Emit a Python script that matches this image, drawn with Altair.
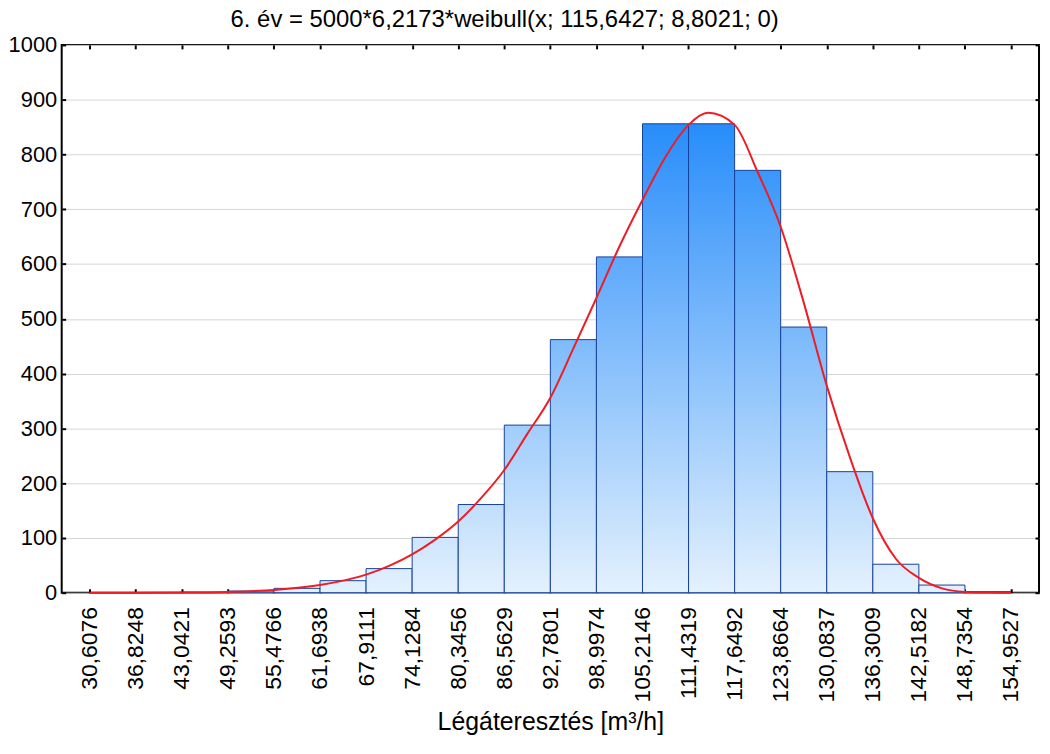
import altair as alt
import pandas as pd

# ---- data ----
edges = [30.6076, 36.8248, 43.0421, 49.2593, 55.4766, 61.6938, 67.9111, 74.1284,
         80.3456, 86.5629, 92.7801, 98.9974, 105.2146, 111.4319, 117.6492, 123.8664,
         130.0837, 136.3009, 142.5182, 148.7354, 154.9527]
counts = [0, 0, 1, 3, 8, 22, 44, 101, 161, 306, 462, 613, 856, 856, 771, 485, 221, 52, 14, 2]

curve_x = [30.6076, 36.8248, 43.0421, 49.2593, 55.4766, 61.6938, 67.9111, 71.02, 74.1284,
           77.24, 80.3456, 83.45, 86.5629, 89.67, 92.7801, 95.89, 98.9974, 102.1, 105.2146,
           108.3, 111.4319, 114.07, 117.6492, 120.76, 123.8664, 126.97, 130.0837, 133.19,
           136.3009, 139.41, 142.5182, 145.63, 148.7354, 151.84, 154.9527]
curve_y = [0, 0, 0.3, 1.5, 5, 14, 33, 49, 70,
           97, 130, 173, 224, 290, 356, 446, 538, 632, 717,
           795, 854, 876, 854, 768, 668, 530, 378, 248,
           136, 62, 27, 8, 1.5, 0.3, 0]

y_ticks = list(range(0, 1001, 100))
title_text = "6. év = 5000*6,2173*weibull(x; 115,6427; 8,8021; 0)"
x_title = "Légáteresztés [m³/h]"

half = (edges[1] - edges[0]) / 2
bars_df = pd.DataFrame({"i": list(range(len(counts))), "x0": edges[:-1],
                        "x1": edges[1:], "n": counts})
curve_df = pd.DataFrame({"x": curve_x, "y": curve_y})

FONT = "Liberation Sans"
x_scale = alt.Scale(domain=[edges[0] - half, edges[-1] + half], nice=False, zero=False)
y_scale = alt.Scale(domain=[0, 1000], nice=False)

c_lo = (228, 241, 253)
c_hi = (30, 136, 250)


def shade(v):
    t = max(0.0, min(v / 900.0, 1.0))
    r, g, b = [round(a + (bb - a) * t) for a, bb in zip(c_lo, c_hi)]
    return f"#{r:02x}{g:02x}{b:02x}"


label_expr = "replace(format(datum.value, '.4f'), '.', ',')"

layers = []
for k, n in enumerate(counts):
    grad = alt.Gradient(
        gradient="linear",
        stops=[alt.GradientStop(offset=0, color=shade(0)),
               alt.GradientStop(offset=1, color=shade(n))],
        x1=0, x2=0, y1=1, y2=0,
    )
    if k == 0:
        xa = alt.Axis(values=edges, labelExpr=label_expr, labelAngle=-90, labelFontSize=23,
                      labelPadding=14, tickSize=4, tickWidth=2, tickColor="black",
                      offset=-4, domain=False, grid=False, title=x_title, titleFontSize=25,
                      titlePadding=8, labelFlush=False, labelOverlap=False,
                      titleFontWeight="normal", labelColor="black", titleColor="black")
        ya = alt.Axis(values=y_ticks, format="d", labelFontSize=22, labelPadding=5,
                      tickSize=4, tickWidth=2, tickColor="black", offset=-4, domain=False,
                      grid=True, gridColor="#d6d6d6", gridWidth=1, title=None,
                      labelColor="black")
    else:
        xa = None
        ya = None
    layer = alt.Chart(bars_df).transform_filter(alt.datum.i == k).mark_bar(
        color=grad, stroke="#16429a", strokeWidth=1, orient="vertical"
    ).encode(
        x=alt.X("x0:Q", scale=x_scale, axis=xa),
        x2="x1:Q",
        y=alt.Y("n:Q", scale=y_scale, axis=ya),
        y2=alt.datum(0),
    )
    layers.append(layer)

curve = alt.Chart(curve_df).mark_line(color="#ee1c25", strokeWidth=2,
                                      interpolate="monotone").encode(
    x=alt.X("x:Q", scale=x_scale,
            axis=alt.Axis(orient="top", values=edges, labels=False, tickSize=4, tickWidth=2,
                          tickColor="black", offset=-4, domain=False, grid=False, title=None)),
    y=alt.Y("y:Q", scale=y_scale,
            axis=alt.Axis(orient="right", values=y_ticks, labels=False, tickSize=4,
                          tickWidth=2, tickColor="black", offset=-4, domain=False,
                          grid=False, title=None)),
)
layers.append(curve)

chart = alt.layer(*layers).resolve_axis(x="independent", y="independent").properties(
    width=983,
    height=551,
    autosize=alt.AutoSizeParams(type="none"),
    padding={"left": 54, "top": 35, "right": 3, "bottom": 145},
    title=alt.TitleParams(text=title_text, fontSize=24, font=FONT, fontWeight="normal",
                          anchor="middle", frame="group", dx=-46, offset=2, color="black"),
).configure_view(stroke="black", strokeWidth=2).configure_axis(
    labelFont=FONT, titleFont=FONT
)

chart.save("out.html", embed_options={"renderer": "svg", "actions": False})
